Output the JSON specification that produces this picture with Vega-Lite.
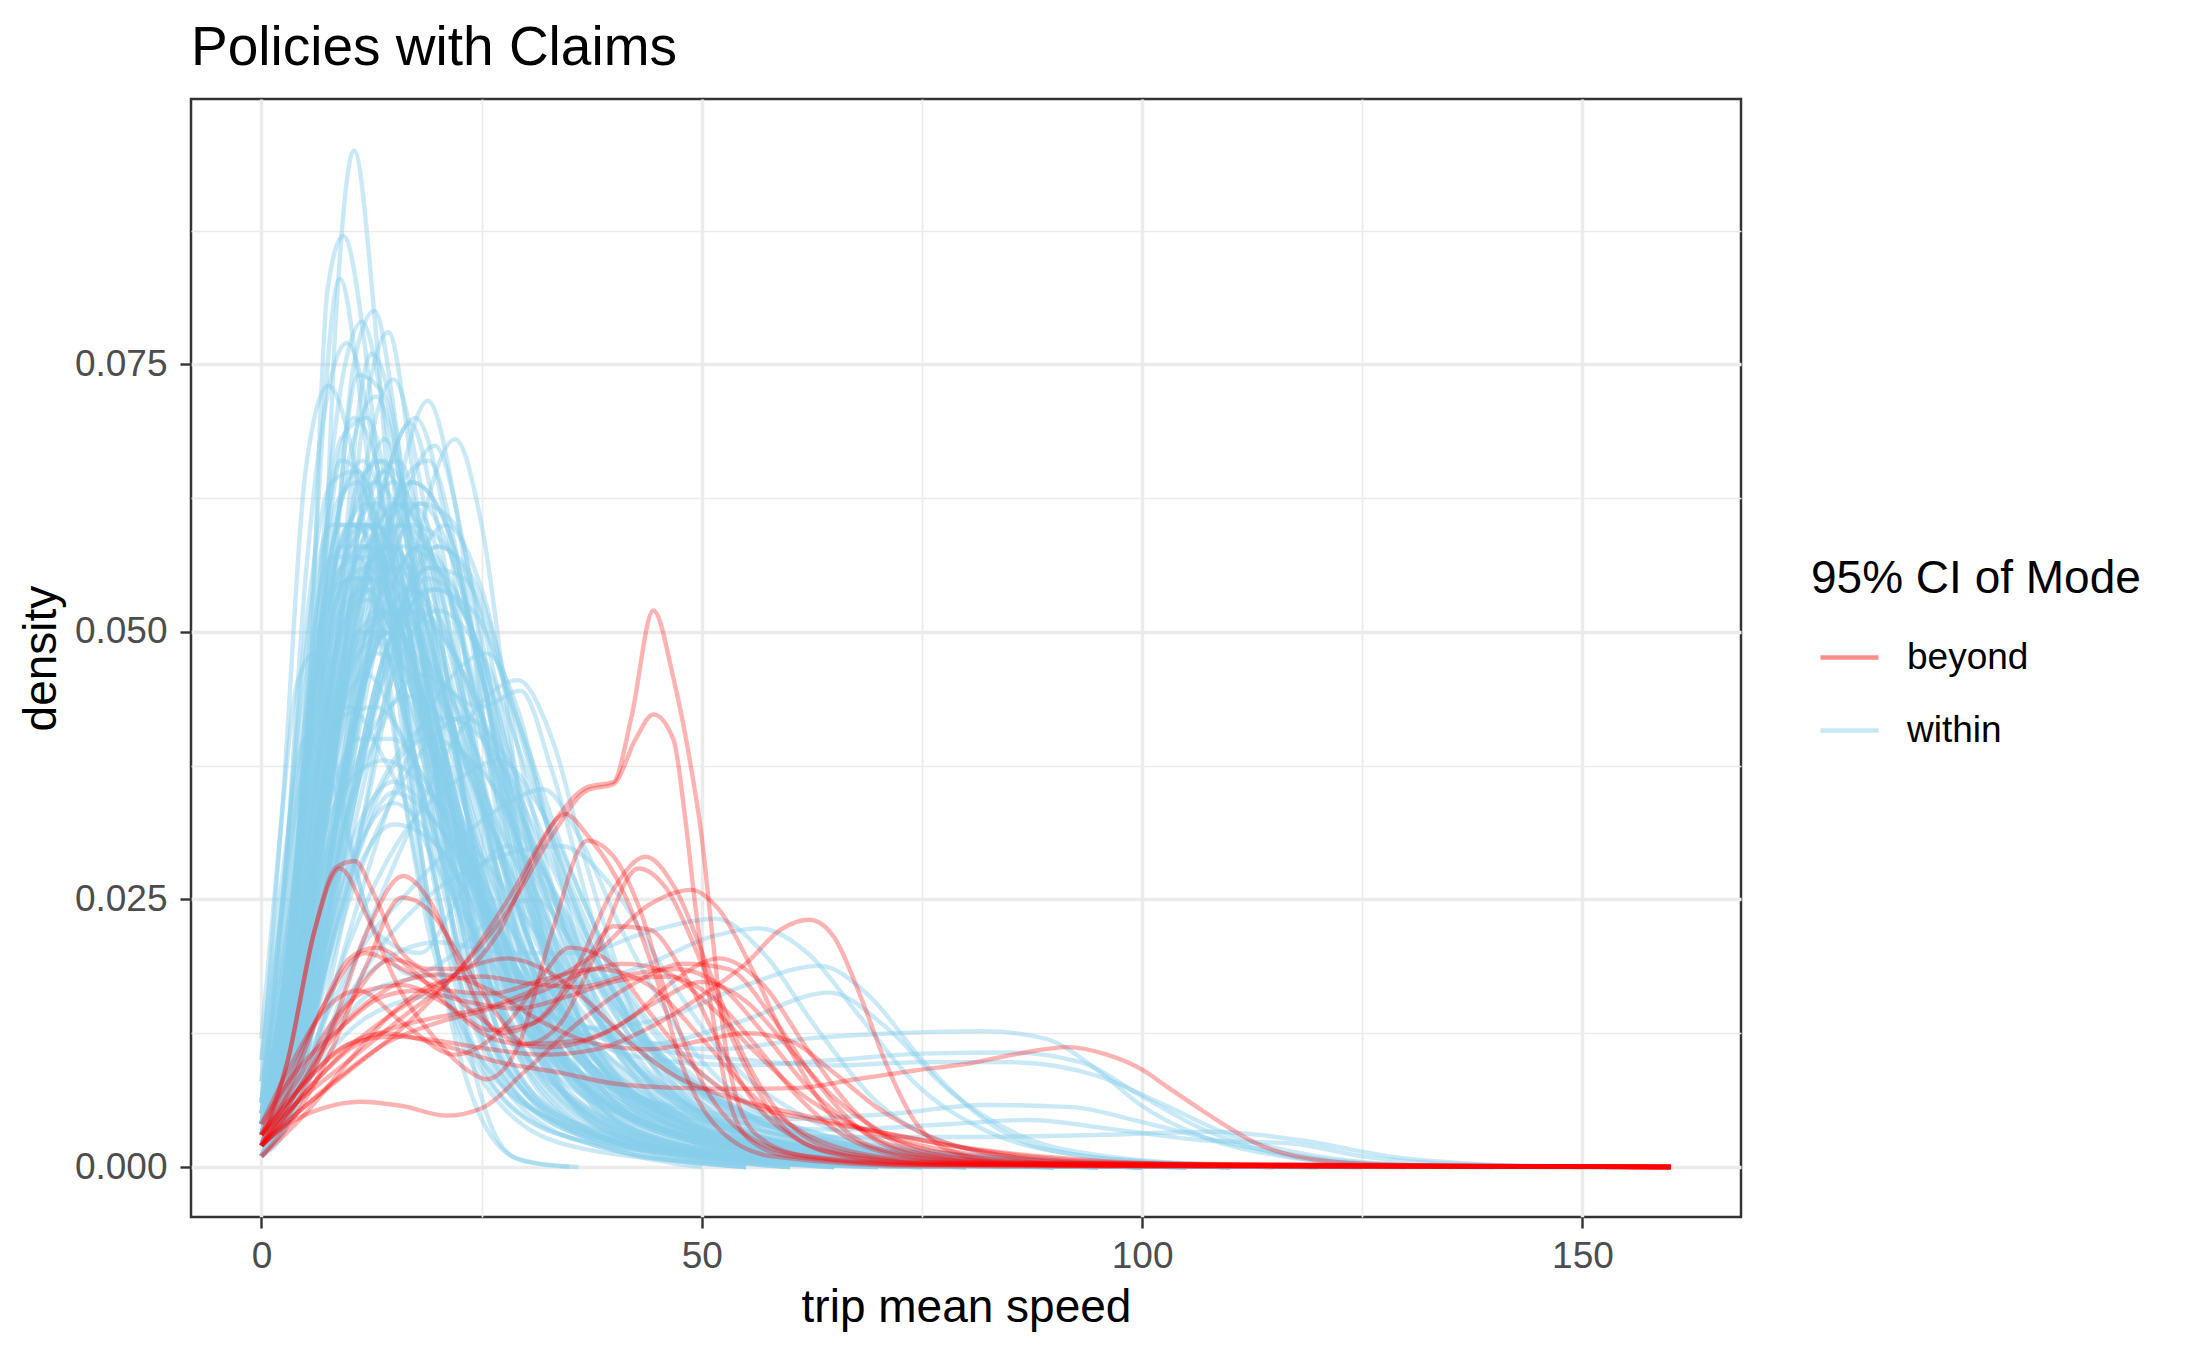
{
  "$schema": "https://vega.github.io/schema/vega-lite/v6.json",
  "width": 1550,
  "height": 1118,
  "autosize": {"type": "none"},
  "padding": {"left": 191, "top": 99, "right": 448, "bottom": 135},
  "background": "white",
  "title": {
    "text": "Policies with Claims",
    "anchor": "start",
    "frame": "group",
    "fontSize": 55,
    "fontWeight": "normal",
    "color": "black",
    "baseline": "bottom",
    "offset": -33
  },
  "config": {
    "font": "Liberation Sans",
    "view": {"stroke": "#333333", "strokeWidth": 2.5},
    "axis": {
      "domain": false,
      "gridColor": "#EBEBEB",
      "tickColor": "#333333",
      "tickWidth": 2.4,
      "tickSize": 11,
      "labelColor": "#4D4D4D",
      "labelFontSize": 37,
      "titleFontSize": 46,
      "titleFontWeight": "normal",
      "titleColor": "black"
    }
  },
  "datasets": {
    "within": [
      {"id":1,"x":0,"y":0.001},{"id":1,"x":3,"y":0.004},{"id":1,"x":6,"y":0.03},{"id":1,"x":8.5,"y":0.08},{"id":1,"x":10.5,"y":0.095},{"id":1,"x":13,"y":0.078},{"id":1,"x":16,"y":0.045},{"id":1,"x":20,"y":0.02},{"id":1,"x":26,"y":0.007},{"id":1,"x":35,"y":0.002},{"id":1,"x":50,"y":0.0005},{"id":1,"x":80,"y":0},
      {"id":2,"x":0,"y":0.002},{"id":2,"x":3,"y":0.01},{"id":2,"x":5.5,"y":0.045},{"id":2,"x":7.5,"y":0.082},{"id":2,"x":9.3,"y":0.087},{"id":2,"x":12,"y":0.075},{"id":2,"x":15,"y":0.048},{"id":2,"x":19,"y":0.024},{"id":2,"x":25,"y":0.01},{"id":2,"x":34,"y":0.004},{"id":2,"x":48,"y":0.001},{"id":2,"x":70,"y":0.0002},{"id":2,"x":90,"y":0},
      {"id":3,"x":0,"y":0.003},{"id":3,"x":3,"y":0.015},{"id":3,"x":5.5,"y":0.05},{"id":3,"x":8.9,"y":0.083},{"id":3,"x":11.5,"y":0.07},{"id":3,"x":15,"y":0.042},{"id":3,"x":20,"y":0.02},{"id":3,"x":27,"y":0.008},{"id":3,"x":38,"y":0.003},{"id":3,"x":55,"y":0.0008},{"id":3,"x":80,"y":0},
      {"id":4,"x":0,"y":0.001},{"id":4,"x":4,"y":0.01},{"id":4,"x":7,"y":0.04},{"id":4,"x":10.5,"y":0.075},{"id":4,"x":12.8,"y":0.08},{"id":4,"x":15.5,"y":0.068},{"id":4,"x":19,"y":0.042},{"id":4,"x":24,"y":0.018},{"id":4,"x":30,"y":0.007},{"id":4,"x":40,"y":0.003},{"id":4,"x":55,"y":0.001},{"id":4,"x":85,"y":0},
      {"id":5,"x":0,"y":0.002},{"id":5,"x":4,"y":0.012},{"id":5,"x":8,"y":0.042},{"id":5,"x":12,"y":0.072},{"id":5,"x":14.4,"y":0.078},{"id":5,"x":17,"y":0.066},{"id":5,"x":21,"y":0.038},{"id":5,"x":26,"y":0.015},{"id":5,"x":33,"y":0.005},{"id":5,"x":45,"y":0.0015},{"id":5,"x":70,"y":0},
      {"id":6,"x":0,"y":0.004},{"id":6,"x":3,"y":0.02},{"id":6,"x":6,"y":0.05},{"id":6,"x":9.5,"y":0.075},{"id":6,"x":11.4,"y":0.079},{"id":6,"x":14,"y":0.07},{"id":6,"x":18,"y":0.042},{"id":6,"x":23,"y":0.018},{"id":6,"x":30,"y":0.006},{"id":6,"x":42,"y":0.002},{"id":6,"x":60,"y":0.0005},{"id":6,"x":90,"y":0},
      {"id":7,"x":0,"y":0.006},{"id":7,"x":2.5,"y":0.025},{"id":7,"x":5,"y":0.055},{"id":7,"x":9.7,"y":0.077},{"id":7,"x":13,"y":0.066},{"id":7,"x":17,"y":0.04},{"id":7,"x":22,"y":0.017},{"id":7,"x":28,"y":0.006},{"id":7,"x":38,"y":0.002},{"id":7,"x":55,"y":0},
      {"id":8,"x":0,"y":0.008},{"id":8,"x":2.5,"y":0.035},{"id":8,"x":5,"y":0.065},{"id":8,"x":7.6,"y":0.073},{"id":8,"x":10,"y":0.068},{"id":8,"x":14,"y":0.046},{"id":8,"x":19,"y":0.022},{"id":8,"x":25,"y":0.009},{"id":8,"x":34,"y":0.003},{"id":8,"x":50,"y":0.001},{"id":8,"x":75,"y":0},
      {"id":9,"x":0,"y":0.001},{"id":9,"x":4,"y":0.008},{"id":9,"x":8,"y":0.036},{"id":9,"x":12,"y":0.066},{"id":9,"x":15,"y":0.0736},{"id":9,"x":18,"y":0.064},{"id":9,"x":22,"y":0.04},{"id":9,"x":27,"y":0.016},{"id":9,"x":34,"y":0.005},{"id":9,"x":45,"y":0.0015},{"id":9,"x":70,"y":0},
      {"id":10,"x":0,"y":0.001},{"id":10,"x":5,"y":0.01},{"id":10,"x":10,"y":0.036},{"id":10,"x":15,"y":0.061},{"id":10,"x":18.9,"y":0.0716},{"id":10,"x":22,"y":0.062},{"id":10,"x":26,"y":0.037},{"id":10,"x":31,"y":0.014},{"id":10,"x":38,"y":0.004},{"id":10,"x":50,"y":0.001},{"id":10,"x":75,"y":0},
      {"id":11,"x":0,"y":0.001},{"id":11,"x":5,"y":0.008},{"id":11,"x":10,"y":0.026},{"id":11,"x":16,"y":0.052},{"id":11,"x":22,"y":0.068},{"id":11,"x":25,"y":0.06},{"id":11,"x":29,"y":0.036},{"id":11,"x":34,"y":0.014},{"id":11,"x":41,"y":0.004},{"id":11,"x":55,"y":0.001},{"id":11,"x":80,"y":0},
      {"id":12,"x":0,"y":0.003},{"id":12,"x":4,"y":0.016},{"id":12,"x":9,"y":0.042},{"id":12,"x":14,"y":0.064},{"id":12,"x":16.9,"y":0.0695},{"id":12,"x":20,"y":0.06},{"id":12,"x":25,"y":0.034},{"id":12,"x":31,"y":0.012},{"id":12,"x":40,"y":0.003},{"id":12,"x":55,"y":0.0008},{"id":12,"x":80,"y":0},
      {"id":13,"x":0,"y":0.002},{"id":13,"x":4,"y":0.011},{"id":13,"x":9,"y":0.034},{"id":13,"x":15,"y":0.059},{"id":13,"x":19.7,"y":0.0674},{"id":13,"x":23,"y":0.058},{"id":13,"x":28,"y":0.031},{"id":13,"x":34,"y":0.011},{"id":13,"x":42,"y":0.003},{"id":13,"x":60,"y":0},
      {"id":14,"x":0,"y":0.005},{"id":14,"x":3,"y":0.022},{"id":14,"x":7,"y":0.052},{"id":14,"x":13,"y":0.072},{"id":14,"x":16,"y":0.064},{"id":14,"x":20,"y":0.042},{"id":14,"x":25,"y":0.018},{"id":14,"x":32,"y":0.006},{"id":14,"x":44,"y":0.002},{"id":14,"x":65,"y":0},
      {"id":15,"x":0,"y":0.004},{"id":15,"x":3,"y":0.018},{"id":15,"x":6,"y":0.048},{"id":15,"x":10.5,"y":0.07},{"id":15,"x":13,"y":0.066},{"id":15,"x":17,"y":0.045},{"id":15,"x":22,"y":0.022},{"id":15,"x":28,"y":0.009},{"id":15,"x":38,"y":0.003},{"id":15,"x":55,"y":0.001},{"id":15,"x":80,"y":0},
      {"id":16,"x":0,"y":0.002},{"id":16,"x":4,"y":0.012},{"id":16,"x":8,"y":0.045},{"id":16,"x":12.5,"y":0.076},{"id":16,"x":15,"y":0.07},{"id":16,"x":18,"y":0.05},{"id":16,"x":23,"y":0.024},{"id":16,"x":29,"y":0.009},{"id":16,"x":38,"y":0.003},{"id":16,"x":55,"y":0},
      {"id":17,"x":0,"y":0.003},{"id":17,"x":3,"y":0.012},{"id":17,"x":7,"y":0.045},{"id":17,"x":11,"y":0.074},{"id":17,"x":14,"y":0.072},{"id":17,"x":17,"y":0.055},{"id":17,"x":21,"y":0.03},{"id":17,"x":27,"y":0.011},{"id":17,"x":36,"y":0.003},{"id":17,"x":50,"y":0},
      {"id":18,"x":0,"y":0.001},{"id":18,"x":4,"y":0.009},{"id":18,"x":8,"y":0.03},{"id":18,"x":13,"y":0.06},{"id":18,"x":17.5,"y":0.07},{"id":18,"x":21,"y":0.06},{"id":18,"x":25,"y":0.036},{"id":18,"x":30,"y":0.015},{"id":18,"x":37,"y":0.005},{"id":18,"x":50,"y":0.001},{"id":18,"x":75,"y":0},
      {"id":19,"x":0,"y":0.005},{"id":19,"x":3,"y":0.024},{"id":19,"x":6,"y":0.05},{"id":19,"x":9,"y":0.066},{"id":19,"x":12,"y":0.064},{"id":19,"x":16,"y":0.045},{"id":19,"x":21,"y":0.022},{"id":19,"x":27,"y":0.009},{"id":19,"x":36,"y":0.003},{"id":19,"x":50,"y":0.001},{"id":19,"x":70,"y":0},
      {"id":20,"x":0,"y":0.002},{"id":20,"x":3,"y":0.012},{"id":20,"x":7,"y":0.04},{"id":20,"x":12,"y":0.062},{"id":20,"x":15.5,"y":0.066},{"id":20,"x":19,"y":0.056},{"id":20,"x":24,"y":0.03},{"id":20,"x":30,"y":0.012},{"id":20,"x":40,"y":0.004},{"id":20,"x":55,"y":0.001},{"id":20,"x":80,"y":0},
      {"id":21,"x":0,"y":0.003},{"id":21,"x":3,"y":0.014},{"id":21,"x":6,"y":0.035},{"id":21,"x":10,"y":0.055},{"id":21,"x":13,"y":0.06},{"id":21,"x":17,"y":0.052},{"id":21,"x":22,"y":0.032},{"id":21,"x":28,"y":0.016},{"id":21,"x":35,"y":0.008},{"id":21,"x":45,"y":0.003},{"id":21,"x":60,"y":0.001},{"id":21,"x":90,"y":0},
      {"id":22,"x":0,"y":0.001},{"id":22,"x":3,"y":0.006},{"id":22,"x":6,"y":0.025},{"id":22,"x":10,"y":0.048},{"id":22,"x":15,"y":0.062},{"id":22,"x":19,"y":0.058},{"id":22,"x":24,"y":0.04},{"id":22,"x":30,"y":0.02},{"id":22,"x":37,"y":0.009},{"id":22,"x":47,"y":0.003},{"id":22,"x":65,"y":0.0008},{"id":22,"x":100,"y":0},
      {"id":23,"x":0,"y":0.004},{"id":23,"x":3,"y":0.02},{"id":23,"x":6,"y":0.042},{"id":23,"x":9,"y":0.056},{"id":23,"x":12,"y":0.058},{"id":23,"x":16,"y":0.048},{"id":23,"x":21,"y":0.03},{"id":23,"x":27,"y":0.015},{"id":23,"x":35,"y":0.006},{"id":23,"x":46,"y":0.002},{"id":23,"x":65,"y":0.0005},{"id":23,"x":95,"y":0},
      {"id":24,"x":0,"y":0.002},{"id":24,"x":4,"y":0.012},{"id":24,"x":8,"y":0.032},{"id":24,"x":13,"y":0.05},{"id":24,"x":18,"y":0.058},{"id":24,"x":22,"y":0.052},{"id":24,"x":27,"y":0.035},{"id":24,"x":33,"y":0.018},{"id":24,"x":40,"y":0.008},{"id":24,"x":50,"y":0.003},{"id":24,"x":70,"y":0.0008},{"id":24,"x":100,"y":0},
      {"id":25,"x":0,"y":0.006},{"id":25,"x":2.5,"y":0.022},{"id":25,"x":5,"y":0.042},{"id":25,"x":8,"y":0.054},{"id":25,"x":11,"y":0.055},{"id":25,"x":15,"y":0.046},{"id":25,"x":20,"y":0.03},{"id":25,"x":26,"y":0.016},{"id":25,"x":34,"y":0.007},{"id":25,"x":45,"y":0.0025},{"id":25,"x":65,"y":0.0006},{"id":25,"x":95,"y":0},
      {"id":26,"x":0,"y":0.001},{"id":26,"x":4,"y":0.008},{"id":26,"x":8,"y":0.028},{"id":26,"x":13,"y":0.05},{"id":26,"x":18,"y":0.062},{"id":26,"x":22,"y":0.06},{"id":26,"x":26,"y":0.045},{"id":26,"x":31,"y":0.024},{"id":26,"x":37,"y":0.01},{"id":26,"x":46,"y":0.004},{"id":26,"x":60,"y":0.001},{"id":26,"x":90,"y":0},
      {"id":27,"x":0,"y":0.002},{"id":27,"x":3,"y":0.01},{"id":27,"x":6,"y":0.03},{"id":27,"x":10,"y":0.05},{"id":27,"x":14,"y":0.056},{"id":27,"x":18,"y":0.05},{"id":27,"x":23,"y":0.034},{"id":27,"x":29,"y":0.018},{"id":27,"x":36,"y":0.008},{"id":27,"x":46,"y":0.003},{"id":27,"x":62,"y":0.001},{"id":27,"x":95,"y":0},
      {"id":28,"x":0,"y":0.003},{"id":28,"x":3,"y":0.016},{"id":28,"x":6,"y":0.04},{"id":28,"x":9,"y":0.058},{"id":28,"x":12,"y":0.062},{"id":28,"x":15,"y":0.056},{"id":28,"x":20,"y":0.036},{"id":28,"x":26,"y":0.017},{"id":28,"x":33,"y":0.007},{"id":28,"x":44,"y":0.002},{"id":28,"x":60,"y":0},
      {"id":29,"x":0,"y":0.001},{"id":29,"x":4,"y":0.01},{"id":29,"x":9,"y":0.03},{"id":29,"x":14,"y":0.048},{"id":29,"x":19,"y":0.056},{"id":29,"x":24,"y":0.05},{"id":29,"x":29,"y":0.033},{"id":29,"x":35,"y":0.016},{"id":29,"x":42,"y":0.007},{"id":29,"x":52,"y":0.0025},{"id":29,"x":70,"y":0.0006},{"id":29,"x":100,"y":0},
      {"id":30,"x":0,"y":0.005},{"id":30,"x":3,"y":0.02},{"id":30,"x":6,"y":0.044},{"id":30,"x":10,"y":0.06},{"id":30,"x":13,"y":0.06},{"id":30,"x":17,"y":0.049},{"id":30,"x":22,"y":0.03},{"id":30,"x":28,"y":0.014},{"id":30,"x":36,"y":0.005},{"id":30,"x":48,"y":0.0015},{"id":30,"x":70,"y":0},
      {"id":31,"x":0,"y":0.002},{"id":31,"x":3,"y":0.012},{"id":31,"x":7,"y":0.036},{"id":31,"x":11,"y":0.054},{"id":31,"x":15,"y":0.058},{"id":31,"x":19,"y":0.05},{"id":31,"x":24,"y":0.032},{"id":31,"x":30,"y":0.016},{"id":31,"x":38,"y":0.007},{"id":31,"x":50,"y":0.0025},{"id":31,"x":70,"y":0.0006},{"id":31,"x":100,"y":0},
      {"id":32,"x":0,"y":0.001},{"id":32,"x":5,"y":0.012},{"id":32,"x":10,"y":0.034},{"id":32,"x":15,"y":0.05},{"id":32,"x":20,"y":0.054},{"id":32,"x":25,"y":0.048},{"id":32,"x":30,"y":0.032},{"id":32,"x":36,"y":0.017},{"id":32,"x":44,"y":0.008},{"id":32,"x":55,"y":0.003},{"id":32,"x":75,"y":0.0008},{"id":32,"x":110,"y":0},
      {"id":33,"x":0,"y":0.004},{"id":33,"x":3,"y":0.018},{"id":33,"x":6,"y":0.038},{"id":33,"x":9,"y":0.05},{"id":33,"x":12,"y":0.053},{"id":33,"x":16,"y":0.048},{"id":33,"x":21,"y":0.035},{"id":33,"x":27,"y":0.02},{"id":33,"x":34,"y":0.01},{"id":33,"x":44,"y":0.004},{"id":33,"x":60,"y":0.0012},{"id":33,"x":90,"y":0.0002},{"id":33,"x":120,"y":0},
      {"id":34,"x":0,"y":0.002},{"id":34,"x":3,"y":0.01},{"id":34,"x":6,"y":0.028},{"id":34,"x":10,"y":0.045},{"id":34,"x":14,"y":0.052},{"id":34,"x":18,"y":0.05},{"id":34,"x":23,"y":0.038},{"id":34,"x":29,"y":0.022},{"id":34,"x":36,"y":0.011},{"id":34,"x":46,"y":0.005},{"id":34,"x":60,"y":0.0015},{"id":34,"x":85,"y":0.0003},{"id":34,"x":120,"y":0},
      {"id":35,"x":0,"y":0.003},{"id":35,"x":4,"y":0.016},{"id":35,"x":8,"y":0.04},{"id":35,"x":11,"y":0.05},{"id":35,"x":14,"y":0.05},{"id":35,"x":18,"y":0.042},{"id":35,"x":23,"y":0.03},{"id":35,"x":29,"y":0.017},{"id":35,"x":37,"y":0.008},{"id":35,"x":48,"y":0.003},{"id":35,"x":65,"y":0.001},{"id":35,"x":100,"y":0},
      {"id":36,"x":0,"y":0.001},{"id":36,"x":4,"y":0.009},{"id":36,"x":8,"y":0.03},{"id":36,"x":12,"y":0.048},{"id":36,"x":16,"y":0.058},{"id":36,"x":20,"y":0.056},{"id":36,"x":25,"y":0.042},{"id":36,"x":31,"y":0.024},{"id":36,"x":38,"y":0.011},{"id":36,"x":48,"y":0.004},{"id":36,"x":65,"y":0.001},{"id":36,"x":100,"y":0},
      {"id":37,"x":0,"y":0.002},{"id":37,"x":3,"y":0.012},{"id":37,"x":6,"y":0.034},{"id":37,"x":9,"y":0.05},{"id":37,"x":12,"y":0.055},{"id":37,"x":16,"y":0.05},{"id":37,"x":21,"y":0.036},{"id":37,"x":27,"y":0.02},{"id":37,"x":35,"y":0.009},{"id":37,"x":46,"y":0.0035},{"id":37,"x":62,"y":0.001},{"id":37,"x":95,"y":0},
      {"id":38,"x":0,"y":0.001},{"id":38,"x":4,"y":0.008},{"id":38,"x":9,"y":0.028},{"id":38,"x":15,"y":0.05},{"id":38,"x":21,"y":0.06},{"id":38,"x":25,"y":0.054},{"id":38,"x":30,"y":0.036},{"id":38,"x":36,"y":0.018},{"id":38,"x":43,"y":0.008},{"id":38,"x":53,"y":0.003},{"id":38,"x":70,"y":0.0008},{"id":38,"x":105,"y":0},
      {"id":39,"x":0,"y":0.004},{"id":39,"x":3,"y":0.02},{"id":39,"x":6,"y":0.045},{"id":39,"x":8.5,"y":0.062},{"id":39,"x":11,"y":0.064},{"id":39,"x":14,"y":0.055},{"id":39,"x":18,"y":0.036},{"id":39,"x":24,"y":0.016},{"id":39,"x":31,"y":0.006},{"id":39,"x":42,"y":0.002},{"id":39,"x":60,"y":0},
      {"id":40,"x":0,"y":0.002},{"id":40,"x":3,"y":0.012},{"id":40,"x":7,"y":0.04},{"id":40,"x":11,"y":0.06},{"id":40,"x":14,"y":0.065},{"id":40,"x":18,"y":0.056},{"id":40,"x":23,"y":0.034},{"id":40,"x":29,"y":0.015},{"id":40,"x":37,"y":0.005},{"id":40,"x":50,"y":0.0015},{"id":40,"x":75,"y":0},
      {"id":41,"x":0,"y":0.003},{"id":41,"x":3,"y":0.012},{"id":41,"x":7,"y":0.028},{"id":41,"x":12,"y":0.04},{"id":41,"x":17,"y":0.044},{"id":41,"x":22,"y":0.04},{"id":41,"x":28,"y":0.03},{"id":41,"x":35,"y":0.018},{"id":41,"x":43,"y":0.009},{"id":41,"x":53,"y":0.004},{"id":41,"x":68,"y":0.0012},{"id":41,"x":90,"y":0.0003},{"id":41,"x":125,"y":0},
      {"id":42,"x":0,"y":0.008},{"id":42,"x":2.5,"y":0.02},{"id":42,"x":5,"y":0.033},{"id":42,"x":9,"y":0.042},{"id":42,"x":13,"y":0.043},{"id":42,"x":18,"y":0.037},{"id":42,"x":24,"y":0.027},{"id":42,"x":31,"y":0.017},{"id":42,"x":39,"y":0.009},{"id":42,"x":50,"y":0.004},{"id":42,"x":65,"y":0.0012},{"id":42,"x":95,"y":0},
      {"id":43,"x":0,"y":0.002},{"id":43,"x":4,"y":0.01},{"id":43,"x":9,"y":0.026},{"id":43,"x":15,"y":0.038},{"id":43,"x":21,"y":0.042},{"id":43,"x":27,"y":0.038},{"id":43,"x":33,"y":0.028},{"id":43,"x":40,"y":0.016},{"id":43,"x":48,"y":0.008},{"id":43,"x":58,"y":0.0035},{"id":43,"x":75,"y":0.001},{"id":43,"x":110,"y":0},
      {"id":44,"x":0,"y":0.005},{"id":44,"x":3,"y":0.016},{"id":44,"x":7,"y":0.032},{"id":44,"x":11,"y":0.04},{"id":44,"x":15,"y":0.04},{"id":44,"x":20,"y":0.034},{"id":44,"x":27,"y":0.024},{"id":44,"x":35,"y":0.014},{"id":44,"x":45,"y":0.007},{"id":44,"x":58,"y":0.0025},{"id":44,"x":80,"y":0.0006},{"id":44,"x":120,"y":0},
      {"id":45,"x":0,"y":0.001},{"id":45,"x":4,"y":0.008},{"id":45,"x":9,"y":0.024},{"id":45,"x":14,"y":0.036},{"id":45,"x":19,"y":0.04},{"id":45,"x":25,"y":0.037},{"id":45,"x":31,"y":0.029},{"id":45,"x":38,"y":0.019},{"id":45,"x":46,"y":0.01},{"id":45,"x":56,"y":0.0045},{"id":45,"x":72,"y":0.0012},{"id":45,"x":100,"y":0.0002},{"id":45,"x":130,"y":0},
      {"id":46,"x":0,"y":0.01},{"id":46,"x":2,"y":0.022},{"id":46,"x":4,"y":0.034},{"id":46,"x":7,"y":0.042},{"id":46,"x":10,"y":0.043},{"id":46,"x":14,"y":0.038},{"id":46,"x":20,"y":0.028},{"id":46,"x":27,"y":0.018},{"id":46,"x":36,"y":0.009},{"id":46,"x":48,"y":0.0035},{"id":46,"x":65,"y":0.001},{"id":46,"x":95,"y":0},
      {"id":47,"x":0,"y":0.002},{"id":47,"x":4,"y":0.012},{"id":47,"x":8,"y":0.028},{"id":47,"x":13,"y":0.04},{"id":47,"x":18,"y":0.046},{"id":47,"x":23,"y":0.043},{"id":47,"x":29,"y":0.033},{"id":47,"x":36,"y":0.02},{"id":47,"x":44,"y":0.01},{"id":47,"x":55,"y":0.004},{"id":47,"x":72,"y":0.001},{"id":47,"x":105,"y":0},
      {"id":48,"x":0,"y":0.004},{"id":48,"x":3,"y":0.014},{"id":48,"x":6,"y":0.028},{"id":48,"x":10,"y":0.036},{"id":48,"x":14,"y":0.038},{"id":48,"x":19,"y":0.035},{"id":48,"x":25,"y":0.029},{"id":48,"x":32,"y":0.021},{"id":48,"x":40,"y":0.013},{"id":48,"x":50,"y":0.007},{"id":48,"x":62,"y":0.003},{"id":48,"x":80,"y":0.001},{"id":48,"x":110,"y":0.0002},{"id":48,"x":140,"y":0},
      {"id":49,"x":0,"y":0.001},{"id":49,"x":5,"y":0.008},{"id":49,"x":10,"y":0.022},{"id":49,"x":15,"y":0.035},{"id":49,"x":20,"y":0.044},{"id":49,"x":25.6,"y":0.048},{"id":49,"x":29,"y":0.043},{"id":49,"x":33,"y":0.03},{"id":49,"x":38,"y":0.015},{"id":49,"x":45,"y":0.006},{"id":49,"x":55,"y":0.002},{"id":49,"x":75,"y":0.0005},{"id":49,"x":100,"y":0},
      {"id":50,"x":0,"y":0.001},{"id":50,"x":5,"y":0.007},{"id":50,"x":10,"y":0.018},{"id":50,"x":16,"y":0.03},{"id":50,"x":22,"y":0.04},{"id":50,"x":29.1,"y":0.0455},{"id":50,"x":33,"y":0.04},{"id":50,"x":37,"y":0.028},{"id":50,"x":42,"y":0.015},{"id":50,"x":49,"y":0.006},{"id":50,"x":60,"y":0.002},{"id":50,"x":80,"y":0.0005},{"id":50,"x":110,"y":0},
      {"id":51,"x":0,"y":0.002},{"id":51,"x":5,"y":0.01},{"id":51,"x":11,"y":0.02},{"id":51,"x":17,"y":0.026},{"id":51,"x":23,"y":0.031},{"id":51,"x":28,"y":0.034},{"id":51,"x":32,"y":0.0353},{"id":51,"x":36,"y":0.031},{"id":51,"x":41,"y":0.022},{"id":51,"x":48,"y":0.012},{"id":51,"x":57,"y":0.005},{"id":51,"x":70,"y":0.0015},{"id":51,"x":95,"y":0.0003},{"id":51,"x":120,"y":0},
      {"id":52,"x":0,"y":0.002},{"id":52,"x":4,"y":0.012},{"id":52,"x":8,"y":0.034},{"id":52,"x":12,"y":0.05},{"id":52,"x":16,"y":0.052},{"id":52,"x":20,"y":0.046},{"id":52,"x":25,"y":0.043},{"id":52,"x":29.4,"y":0.0445},{"id":52,"x":33,"y":0.037},{"id":52,"x":38,"y":0.022},{"id":52,"x":44,"y":0.01},{"id":52,"x":52,"y":0.004},{"id":52,"x":65,"y":0.001},{"id":52,"x":90,"y":0},
      {"id":53,"x":0,"y":0.001},{"id":53,"x":5,"y":0.009},{"id":53,"x":10,"y":0.021},{"id":53,"x":16,"y":0.031},{"id":53,"x":22,"y":0.036},{"id":53,"x":27,"y":0.038},{"id":53,"x":32,"y":0.033},{"id":53,"x":37,"y":0.024},{"id":53,"x":43,"y":0.013},{"id":53,"x":50,"y":0.006},{"id":53,"x":60,"y":0.002},{"id":53,"x":80,"y":0.0005},{"id":53,"x":110,"y":0},
      {"id":54,"x":0,"y":0.002},{"id":54,"x":5,"y":0.011},{"id":54,"x":10,"y":0.025},{"id":54,"x":16,"y":0.036},{"id":54,"x":23,"y":0.042},{"id":54,"x":28,"y":0.038},{"id":54,"x":34,"y":0.027},{"id":54,"x":41,"y":0.015},{"id":54,"x":49,"y":0.008},{"id":54,"x":58,"y":0.004},{"id":54,"x":70,"y":0.0015},{"id":54,"x":90,"y":0.0004},{"id":54,"x":120,"y":0},
      {"id":55,"x":0,"y":0.002},{"id":55,"x":6,"y":0.01},{"id":55,"x":13,"y":0.02},{"id":55,"x":20,"y":0.026},{"id":55,"x":27,"y":0.029},{"id":55,"x":34,"y":0.03},{"id":55,"x":40,"y":0.026},{"id":55,"x":46,"y":0.018},{"id":55,"x":53,"y":0.01},{"id":55,"x":61,"y":0.005},{"id":55,"x":72,"y":0.002},{"id":55,"x":90,"y":0.0006},{"id":55,"x":120,"y":0},
      {"id":56,"x":0,"y":0.002},{"id":56,"x":5,"y":0.012},{"id":56,"x":10,"y":0.026},{"id":56,"x":15,"y":0.032},{"id":56,"x":20,"y":0.03},{"id":56,"x":26,"y":0.022},{"id":56,"x":33,"y":0.015},{"id":56,"x":42,"y":0.012},{"id":56,"x":52,"y":0.011},{"id":56,"x":62,"y":0.012},{"id":56,"x":72,"y":0.0125},{"id":56,"x":82,"y":0.0127},{"id":56,"x":89,"y":0.012},{"id":56,"x":95,"y":0.009},{"id":56,"x":100,"y":0.0057},{"id":56,"x":108,"y":0.0025},{"id":56,"x":116,"y":0.001},{"id":56,"x":125,"y":0.0003},{"id":56,"x":140,"y":0},
      {"id":57,"x":0,"y":0.003},{"id":57,"x":5,"y":0.014},{"id":57,"x":10,"y":0.028},{"id":57,"x":15,"y":0.034},{"id":57,"x":20,"y":0.03},{"id":57,"x":27,"y":0.02},{"id":57,"x":35,"y":0.013},{"id":57,"x":45,"y":0.01},{"id":57,"x":55,"y":0.0095},{"id":57,"x":65,"y":0.01},{"id":57,"x":75,"y":0.0106},{"id":57,"x":85,"y":0.0107},{"id":57,"x":93,"y":0.0098},{"id":57,"x":100,"y":0.0066},{"id":57,"x":107,"y":0.0035},{"id":57,"x":115,"y":0.0013},{"id":57,"x":125,"y":0.0003},{"id":57,"x":145,"y":0},
      {"id":58,"x":0,"y":0.004},{"id":58,"x":4,"y":0.02},{"id":58,"x":8,"y":0.04},{"id":58,"x":12,"y":0.046},{"id":58,"x":16,"y":0.04},{"id":58,"x":22,"y":0.026},{"id":58,"x":29,"y":0.014},{"id":58,"x":38,"y":0.008},{"id":58,"x":48,"y":0.0055},{"id":58,"x":60,"y":0.0045},{"id":58,"x":72,"y":0.005},{"id":58,"x":82,"y":0.0058},{"id":58,"x":92,"y":0.0056},{"id":58,"x":100,"y":0.0042},{"id":58,"x":110,"y":0.0022},{"id":58,"x":120,"y":0.0008},{"id":58,"x":135,"y":0},
      {"id":59,"x":0,"y":0.002},{"id":59,"x":4,"y":0.012},{"id":59,"x":9,"y":0.034},{"id":59,"x":13,"y":0.048},{"id":59,"x":17,"y":0.046},{"id":59,"x":23,"y":0.032},{"id":59,"x":30,"y":0.017},{"id":59,"x":40,"y":0.008},{"id":59,"x":52,"y":0.0045},{"id":59,"x":65,"y":0.0035},{"id":59,"x":78,"y":0.004},{"id":59,"x":87,"y":0.0044},{"id":59,"x":97,"y":0.0035},{"id":59,"x":107,"y":0.0025},{"id":59,"x":117,"y":0.0022},{"id":59,"x":125,"y":0.001},{"id":59,"x":135,"y":0.0003},{"id":59,"x":150,"y":0},
      {"id":60,"x":0,"y":0.002},{"id":60,"x":5,"y":0.008},{"id":60,"x":12,"y":0.014},{"id":60,"x":20,"y":0.016},{"id":60,"x":28,"y":0.016},{"id":60,"x":36,"y":0.017},{"id":60,"x":44,"y":0.019},{"id":60,"x":51,"y":0.0215},{"id":60,"x":56.5,"y":0.0223},{"id":60,"x":62,"y":0.02},{"id":60,"x":68,"y":0.014},{"id":60,"x":74,"y":0.008},{"id":60,"x":82,"y":0.0035},{"id":60,"x":92,"y":0.0012},{"id":60,"x":105,"y":0.0003},{"id":60,"x":125,"y":0},
      {"id":61,"x":0,"y":0.001},{"id":61,"x":5,"y":0.009},{"id":61,"x":12,"y":0.018},{"id":61,"x":20,"y":0.021},{"id":61,"x":28,"y":0.02},{"id":61,"x":36,"y":0.02},{"id":61,"x":44,"y":0.022},{"id":61,"x":51.6,"y":0.0232},{"id":61,"x":57,"y":0.02},{"id":61,"x":63,"y":0.013},{"id":61,"x":70,"y":0.006},{"id":61,"x":78,"y":0.0022},{"id":61,"x":90,"y":0.0006},{"id":61,"x":110,"y":0},
      {"id":62,"x":0,"y":0.002},{"id":62,"x":6,"y":0.01},{"id":62,"x":14,"y":0.017},{"id":62,"x":22,"y":0.018},{"id":62,"x":30,"y":0.015},{"id":62,"x":38,"y":0.013},{"id":62,"x":46,"y":0.014},{"id":62,"x":55,"y":0.017},{"id":62,"x":63.4,"y":0.0188},{"id":62,"x":69,"y":0.016},{"id":62,"x":75,"y":0.01},{"id":62,"x":82,"y":0.0045},{"id":62,"x":90,"y":0.0015},{"id":62,"x":105,"y":0.0003},{"id":62,"x":125,"y":0},
      {"id":63,"x":0,"y":0.003},{"id":63,"x":5,"y":0.016},{"id":63,"x":10,"y":0.03},{"id":63,"x":15,"y":0.036},{"id":63,"x":20,"y":0.032},{"id":63,"x":27,"y":0.021},{"id":63,"x":35,"y":0.013},{"id":63,"x":44,"y":0.0115},{"id":63,"x":54,"y":0.0135},{"id":63,"x":64.5,"y":0.0163},{"id":63,"x":71,"y":0.013},{"id":63,"x":78,"y":0.0072},{"id":63,"x":86,"y":0.003},{"id":63,"x":96,"y":0.001},{"id":63,"x":110,"y":0.0002},{"id":63,"x":130,"y":0},
      {"id":64,"x":0,"y":0.002},{"id":64,"x":5,"y":0.012},{"id":64,"x":10,"y":0.027},{"id":64,"x":15,"y":0.035},{"id":64,"x":20,"y":0.032},{"id":64,"x":27,"y":0.022},{"id":64,"x":35,"y":0.014},{"id":64,"x":45,"y":0.011},{"id":64,"x":55,"y":0.01},{"id":64,"x":65,"y":0.0095},{"id":64,"x":75,"y":0.0098},{"id":64,"x":85,"y":0.0098},{"id":64,"x":95,"y":0.0085},{"id":64,"x":102,"y":0.006},{"id":64,"x":110,"y":0.003},{"id":64,"x":120,"y":0.001},{"id":64,"x":135,"y":0},
      {"id":65,"x":0,"y":0.003},{"id":65,"x":4,"y":0.018},{"id":65,"x":8,"y":0.04},{"id":65,"x":12,"y":0.05},{"id":65,"x":16,"y":0.045},{"id":65,"x":22,"y":0.03},{"id":65,"x":30,"y":0.016},{"id":65,"x":40,"y":0.008},{"id":65,"x":52,"y":0.004},{"id":65,"x":65,"y":0.0028},{"id":65,"x":80,"y":0.0028},{"id":65,"x":95,"y":0.003},{"id":65,"x":108,"y":0.0033},{"id":65,"x":118,"y":0.0025},{"id":65,"x":128,"y":0.001},{"id":65,"x":140,"y":0.0002},{"id":65,"x":150,"y":0},
      {"id":66,"x":0,"y":0.001},{"id":66,"x":4,"y":0.01},{"id":66,"x":8,"y":0.038},{"id":66,"x":12,"y":0.064},{"id":66,"x":14,"y":0.068},{"id":66,"x":17,"y":0.058},{"id":66,"x":20,"y":0.035},{"id":66,"x":23,"y":0.014},{"id":66,"x":26,"y":0.004},{"id":66,"x":29,"y":0.0008},{"id":66,"x":35,"y":0},
      {"id":67,"x":0,"y":0.003},{"id":67,"x":3,"y":0.015},{"id":67,"x":6,"y":0.045},{"id":67,"x":9,"y":0.062},{"id":67,"x":11,"y":0.065},{"id":67,"x":14,"y":0.055},{"id":67,"x":18,"y":0.03},{"id":67,"x":22,"y":0.012},{"id":67,"x":26,"y":0.003},{"id":67,"x":30,"y":0.0005},{"id":67,"x":36,"y":0},
      {"id":68,"x":0,"y":0.012},{"id":68,"x":2,"y":0.03},{"id":68,"x":4,"y":0.045},{"id":68,"x":6,"y":0.048},{"id":68,"x":9,"y":0.035},{"id":68,"x":13,"y":0.022},{"id":68,"x":18,"y":0.02},{"id":68,"x":23,"y":0.026},{"id":68,"x":28,"y":0.03},{"id":68,"x":33,"y":0.025},{"id":68,"x":39,"y":0.014},{"id":68,"x":46,"y":0.006},{"id":68,"x":55,"y":0.002},{"id":68,"x":70,"y":0.0004},{"id":68,"x":90,"y":0},
      {"id":69,"x":0,"y":0.01},{"id":69,"x":2.5,"y":0.028},{"id":69,"x":5,"y":0.04},{"id":69,"x":8,"y":0.036},{"id":69,"x":12,"y":0.024},{"id":69,"x":17,"y":0.018},{"id":69,"x":22,"y":0.02},{"id":69,"x":27,"y":0.024},{"id":69,"x":31,"y":0.025},{"id":69,"x":36,"y":0.02},{"id":69,"x":42,"y":0.012},{"id":69,"x":50,"y":0.005},{"id":69,"x":60,"y":0.0015},{"id":69,"x":80,"y":0},
      {"id":70,"x":0,"y":0.002},{"id":70,"x":3,"y":0.008},{"id":70,"x":7,"y":0.018},{"id":70,"x":12,"y":0.034},{"id":70,"x":16,"y":0.05},{"id":70,"x":20,"y":0.058},{"id":70,"x":24,"y":0.054},{"id":70,"x":28,"y":0.04},{"id":70,"x":33,"y":0.022},{"id":70,"x":39,"y":0.009},{"id":70,"x":47,"y":0.003},{"id":70,"x":60,"y":0.0006},{"id":70,"x":80,"y":0},
      {"id":71,"x":0,"y":0.004},{"id":71,"x":3,"y":0.02},{"id":71,"x":6,"y":0.048},{"id":71,"x":9,"y":0.068},{"id":71,"x":12,"y":0.07},{"id":71,"x":15,"y":0.06},{"id":71,"x":19,"y":0.038},{"id":71,"x":24,"y":0.017},{"id":71,"x":30,"y":0.006},{"id":71,"x":40,"y":0.002},{"id":71,"x":55,"y":0},
      {"id":72,"x":0,"y":0.002},{"id":72,"x":4,"y":0.014},{"id":72,"x":8,"y":0.045},{"id":72,"x":11,"y":0.064},{"id":72,"x":14,"y":0.066},{"id":72,"x":17,"y":0.056},{"id":72,"x":21,"y":0.036},{"id":72,"x":26,"y":0.017},{"id":72,"x":32,"y":0.007},{"id":72,"x":42,"y":0.002},{"id":72,"x":60,"y":0},
      {"id":73,"x":0,"y":0.001},{"id":73,"x":4,"y":0.01},{"id":73,"x":8,"y":0.03},{"id":73,"x":12,"y":0.05},{"id":73,"x":16,"y":0.064},{"id":73,"x":19,"y":0.066},{"id":73,"x":22,"y":0.058},{"id":73,"x":26,"y":0.038},{"id":73,"x":31,"y":0.018},{"id":73,"x":37,"y":0.007},{"id":73,"x":46,"y":0.002},{"id":73,"x":65,"y":0},
      {"id":74,"x":0,"y":0.002},{"id":74,"x":3,"y":0.013},{"id":74,"x":6,"y":0.036},{"id":74,"x":9,"y":0.055},{"id":74,"x":13,"y":0.066},{"id":74,"x":16,"y":0.064},{"id":74,"x":20,"y":0.048},{"id":74,"x":25,"y":0.026},{"id":74,"x":31,"y":0.011},{"id":74,"x":39,"y":0.004},{"id":74,"x":52,"y":0.001},{"id":74,"x":75,"y":0},
      {"id":75,"x":0,"y":0.003},{"id":75,"x":3,"y":0.016},{"id":75,"x":6,"y":0.04},{"id":75,"x":10,"y":0.058},{"id":75,"x":13,"y":0.06},{"id":75,"x":17,"y":0.052},{"id":75,"x":22,"y":0.034},{"id":75,"x":27,"y":0.019},{"id":75,"x":33,"y":0.009},{"id":75,"x":42,"y":0.0035},{"id":75,"x":55,"y":0.001},{"id":75,"x":80,"y":0},
      {"id":76,"x":0,"y":0.001},{"id":76,"x":4,"y":0.01},{"id":76,"x":9,"y":0.035},{"id":76,"x":13,"y":0.056},{"id":76,"x":17,"y":0.064},{"id":76,"x":21,"y":0.06},{"id":76,"x":25,"y":0.046},{"id":76,"x":30,"y":0.026},{"id":76,"x":36,"y":0.011},{"id":76,"x":44,"y":0.004},{"id":76,"x":58,"y":0.001},{"id":76,"x":85,"y":0},
      {"id":77,"x":0,"y":0.006},{"id":77,"x":2.5,"y":0.026},{"id":77,"x":5,"y":0.05},{"id":77,"x":8,"y":0.064},{"id":77,"x":10.5,"y":0.065},{"id":77,"x":14,"y":0.054},{"id":77,"x":18,"y":0.034},{"id":77,"x":23,"y":0.016},{"id":77,"x":29,"y":0.006},{"id":77,"x":38,"y":0.002},{"id":77,"x":55,"y":0},
      {"id":78,"x":0,"y":0.002},{"id":78,"x":4,"y":0.012},{"id":78,"x":8,"y":0.036},{"id":78,"x":12,"y":0.058},{"id":78,"x":16,"y":0.062},{"id":78,"x":20,"y":0.054},{"id":78,"x":25,"y":0.034},{"id":78,"x":31,"y":0.016},{"id":78,"x":38,"y":0.006},{"id":78,"x":48,"y":0.002},{"id":78,"x":65,"y":0},
      {"id":79,"x":0,"y":0.001},{"id":79,"x":3,"y":0.008},{"id":79,"x":6,"y":0.03},{"id":79,"x":9,"y":0.05},{"id":79,"x":12,"y":0.058},{"id":79,"x":16,"y":0.054},{"id":79,"x":21,"y":0.038},{"id":79,"x":27,"y":0.02},{"id":79,"x":34,"y":0.009},{"id":79,"x":44,"y":0.003},{"id":79,"x":60,"y":0.0008},{"id":79,"x":90,"y":0},
      {"id":80,"x":0,"y":0.004},{"id":80,"x":3,"y":0.02},{"id":80,"x":7,"y":0.05},{"id":80,"x":10,"y":0.06},{"id":80,"x":13,"y":0.058},{"id":80,"x":17,"y":0.046},{"id":80,"x":22,"y":0.028},{"id":80,"x":28,"y":0.013},{"id":80,"x":35,"y":0.005},{"id":80,"x":46,"y":0.0015},{"id":80,"x":65,"y":0},
      {"id":81,"x":0,"y":0.002},{"id":81,"x":3,"y":0.012},{"id":81,"x":7,"y":0.038},{"id":81,"x":11,"y":0.055},{"id":81,"x":15,"y":0.058},{"id":81,"x":19,"y":0.05},{"id":81,"x":24,"y":0.034},{"id":81,"x":30,"y":0.019},{"id":81,"x":37,"y":0.01},{"id":81,"x":45,"y":0.005},{"id":81,"x":55,"y":0.002},{"id":81,"x":70,"y":0.0006},{"id":81,"x":95,"y":0},
      {"id":82,"x":0,"y":0.003},{"id":82,"x":3,"y":0.016},{"id":82,"x":6,"y":0.04},{"id":82,"x":9,"y":0.054},{"id":82,"x":12,"y":0.056},{"id":82,"x":16,"y":0.05},{"id":82,"x":21,"y":0.036},{"id":82,"x":27,"y":0.022},{"id":82,"x":34,"y":0.012},{"id":82,"x":42,"y":0.006},{"id":82,"x":52,"y":0.0025},{"id":82,"x":68,"y":0.0007},{"id":82,"x":95,"y":0},
      {"id":83,"x":0,"y":0.001},{"id":83,"x":4,"y":0.01},{"id":83,"x":8,"y":0.03},{"id":83,"x":12,"y":0.046},{"id":83,"x":17,"y":0.054},{"id":83,"x":21,"y":0.05},{"id":83,"x":26,"y":0.038},{"id":83,"x":32,"y":0.024},{"id":83,"x":39,"y":0.013},{"id":83,"x":47,"y":0.006},{"id":83,"x":58,"y":0.0025},{"id":83,"x":75,"y":0.0006},{"id":83,"x":105,"y":0},
      {"id":84,"x":0,"y":0.004},{"id":84,"x":3,"y":0.018},{"id":84,"x":6,"y":0.042},{"id":84,"x":9,"y":0.058},{"id":84,"x":12,"y":0.06},{"id":84,"x":15,"y":0.054},{"id":84,"x":20,"y":0.038},{"id":84,"x":25,"y":0.024},{"id":84,"x":31,"y":0.013},{"id":84,"x":39,"y":0.006},{"id":84,"x":50,"y":0.0025},{"id":84,"x":65,"y":0.0007},{"id":84,"x":90,"y":0},
      {"id":85,"x":0,"y":0.002},{"id":85,"x":4,"y":0.014},{"id":85,"x":8,"y":0.04},{"id":85,"x":12,"y":0.058},{"id":85,"x":16,"y":0.06},{"id":85,"x":20,"y":0.052},{"id":85,"x":25,"y":0.036},{"id":85,"x":31,"y":0.02},{"id":85,"x":38,"y":0.01},{"id":85,"x":47,"y":0.0045},{"id":85,"x":58,"y":0.0018},{"id":85,"x":75,"y":0.0005},{"id":85,"x":100,"y":0},
      {"id":86,"x":0,"y":0.001},{"id":86,"x":5,"y":0.012},{"id":86,"x":10,"y":0.036},{"id":86,"x":14,"y":0.052},{"id":86,"x":18,"y":0.058},{"id":86,"x":22,"y":0.054},{"id":86,"x":27,"y":0.04},{"id":86,"x":33,"y":0.024},{"id":86,"x":40,"y":0.012},{"id":86,"x":49,"y":0.0055},{"id":86,"x":60,"y":0.002},{"id":86,"x":80,"y":0.0005},{"id":86,"x":110,"y":0},
      {"id":87,"x":0,"y":0.005},{"id":87,"x":3,"y":0.02},{"id":87,"x":6,"y":0.042},{"id":87,"x":10,"y":0.055},{"id":87,"x":13,"y":0.055},{"id":87,"x":17,"y":0.047},{"id":87,"x":22,"y":0.033},{"id":87,"x":28,"y":0.02},{"id":87,"x":35,"y":0.011},{"id":87,"x":44,"y":0.0055},{"id":87,"x":55,"y":0.0025},{"id":87,"x":72,"y":0.0007},{"id":87,"x":100,"y":0},
      {"id":88,"x":0,"y":0.002},{"id":88,"x":3,"y":0.01},{"id":88,"x":7,"y":0.032},{"id":88,"x":11,"y":0.05},{"id":88,"x":15,"y":0.056},{"id":88,"x":19,"y":0.052},{"id":88,"x":24,"y":0.038},{"id":88,"x":30,"y":0.022},{"id":88,"x":37,"y":0.011},{"id":88,"x":46,"y":0.005},{"id":88,"x":57,"y":0.002},{"id":88,"x":75,"y":0.0005},{"id":88,"x":105,"y":0},
      {"id":89,"x":0,"y":0.003},{"id":89,"x":4,"y":0.016},{"id":89,"x":8,"y":0.042},{"id":89,"x":11,"y":0.054},{"id":89,"x":14,"y":0.055},{"id":89,"x":18,"y":0.047},{"id":89,"x":23,"y":0.032},{"id":89,"x":29,"y":0.018},{"id":89,"x":36,"y":0.009},{"id":89,"x":45,"y":0.004},{"id":89,"x":56,"y":0.0015},{"id":89,"x":75,"y":0.0004},{"id":89,"x":100,"y":0},
      {"id":90,"x":0,"y":0.001},{"id":90,"x":4,"y":0.009},{"id":90,"x":9,"y":0.03},{"id":90,"x":14,"y":0.048},{"id":90,"x":19,"y":0.055},{"id":90,"x":24,"y":0.05},{"id":90,"x":29,"y":0.036},{"id":90,"x":35,"y":0.021},{"id":90,"x":42,"y":0.011},{"id":90,"x":50,"y":0.005},{"id":90,"x":62,"y":0.002},{"id":90,"x":80,"y":0.0005},{"id":90,"x":110,"y":0},
      {"id":91,"x":0,"y":0.004},{"id":91,"x":3,"y":0.02},{"id":91,"x":6,"y":0.046},{"id":91,"x":9,"y":0.06},{"id":91,"x":12,"y":0.06},{"id":91,"x":16,"y":0.05},{"id":91,"x":21,"y":0.033},{"id":91,"x":27,"y":0.018},{"id":91,"x":34,"y":0.009},{"id":91,"x":43,"y":0.004},{"id":91,"x":55,"y":0.0015},{"id":91,"x":72,"y":0.0004},{"id":91,"x":100,"y":0},
      {"id":92,"x":0,"y":0.002},{"id":92,"x":4,"y":0.013},{"id":92,"x":8,"y":0.038},{"id":92,"x":13,"y":0.058},{"id":92,"x":17,"y":0.062},{"id":92,"x":21,"y":0.055},{"id":92,"x":26,"y":0.037},{"id":92,"x":32,"y":0.02},{"id":92,"x":39,"y":0.009},{"id":92,"x":48,"y":0.004},{"id":92,"x":60,"y":0.0013},{"id":92,"x":80,"y":0.0003},{"id":92,"x":105,"y":0},
      {"id":93,"x":0,"y":0.003},{"id":93,"x":3,"y":0.014},{"id":93,"x":7,"y":0.036},{"id":93,"x":11,"y":0.05},{"id":93,"x":15,"y":0.052},{"id":93,"x":20,"y":0.045},{"id":93,"x":26,"y":0.032},{"id":93,"x":33,"y":0.019},{"id":93,"x":41,"y":0.01},{"id":93,"x":50,"y":0.005},{"id":93,"x":62,"y":0.002},{"id":93,"x":80,"y":0.0006},{"id":93,"x":110,"y":0},
      {"id":94,"x":0,"y":0.001},{"id":94,"x":5,"y":0.01},{"id":94,"x":10,"y":0.03},{"id":94,"x":15,"y":0.046},{"id":94,"x":20,"y":0.052},{"id":94,"x":25,"y":0.048},{"id":94,"x":31,"y":0.035},{"id":94,"x":38,"y":0.021},{"id":94,"x":46,"y":0.011},{"id":94,"x":55,"y":0.005},{"id":94,"x":67,"y":0.002},{"id":94,"x":85,"y":0.0005},{"id":94,"x":115,"y":0},
      {"id":95,"x":0,"y":0.006},{"id":95,"x":2.5,"y":0.024},{"id":95,"x":5,"y":0.045},{"id":95,"x":8,"y":0.057},{"id":95,"x":11,"y":0.057},{"id":95,"x":15,"y":0.046},{"id":95,"x":20,"y":0.03},{"id":95,"x":26,"y":0.017},{"id":95,"x":33,"y":0.009},{"id":95,"x":42,"y":0.0045},{"id":95,"x":54,"y":0.0018},{"id":95,"x":72,"y":0.0005},{"id":95,"x":100,"y":0},
      {"id":96,"x":0,"y":0.002},{"id":96,"x":4,"y":0.012},{"id":96,"x":8,"y":0.036},{"id":96,"x":12,"y":0.054},{"id":96,"x":16,"y":0.06},{"id":96,"x":20,"y":0.056},{"id":96,"x":25,"y":0.042},{"id":96,"x":31,"y":0.026},{"id":96,"x":38,"y":0.014},{"id":96,"x":47,"y":0.0065},{"id":96,"x":58,"y":0.0025},{"id":96,"x":76,"y":0.0006},{"id":96,"x":105,"y":0},
      {"id":97,"x":0,"y":0.003},{"id":97,"x":3,"y":0.015},{"id":97,"x":7,"y":0.04},{"id":97,"x":10,"y":0.052},{"id":97,"x":13,"y":0.054},{"id":97,"x":17,"y":0.048},{"id":97,"x":22,"y":0.036},{"id":97,"x":28,"y":0.023},{"id":97,"x":35,"y":0.013},{"id":97,"x":44,"y":0.0065},{"id":97,"x":56,"y":0.0028},{"id":97,"x":75,"y":0.0008},{"id":97,"x":105,"y":0},
      {"id":98,"x":0,"y":0.001},{"id":98,"x":4,"y":0.008},{"id":98,"x":9,"y":0.028},{"id":98,"x":14,"y":0.046},{"id":98,"x":19,"y":0.056},{"id":98,"x":23,"y":0.055},{"id":98,"x":28,"y":0.044},{"id":98,"x":34,"y":0.028},{"id":98,"x":41,"y":0.015},{"id":98,"x":50,"y":0.007},{"id":98,"x":62,"y":0.0028},{"id":98,"x":80,"y":0.0008},{"id":98,"x":110,"y":0},
      {"id":99,"x":0,"y":0.004},{"id":99,"x":3,"y":0.017},{"id":99,"x":6,"y":0.04},{"id":99,"x":9,"y":0.052},{"id":99,"x":12,"y":0.054},{"id":99,"x":16,"y":0.047},{"id":99,"x":21,"y":0.034},{"id":99,"x":27,"y":0.021},{"id":99,"x":34,"y":0.011},{"id":99,"x":43,"y":0.005},{"id":99,"x":55,"y":0.002},{"id":99,"x":72,"y":0.0006},{"id":99,"x":100,"y":0},
      {"id":100,"x":0,"y":0.002},{"id":100,"x":3,"y":0.011},{"id":100,"x":7,"y":0.034},{"id":100,"x":11,"y":0.052},{"id":100,"x":14,"y":0.058},{"id":100,"x":18,"y":0.054},{"id":100,"x":23,"y":0.04},{"id":100,"x":29,"y":0.024},{"id":100,"x":36,"y":0.012},{"id":100,"x":45,"y":0.0055},{"id":100,"x":57,"y":0.002},{"id":100,"x":75,"y":0.0005},{"id":100,"x":105,"y":0},
      {"id":121,"x":0,"y":0.002},{"id":121,"x":4,"y":0.012},{"id":121,"x":7,"y":0.032},{"id":121,"x":10,"y":0.046},{"id":121,"x":13,"y":0.052},{"id":121,"x":17,"y":0.05},{"id":121,"x":22,"y":0.04},{"id":121,"x":28,"y":0.027},{"id":121,"x":35,"y":0.015},{"id":121,"x":44,"y":0.007},{"id":121,"x":55,"y":0.003},{"id":121,"x":72,"y":0.0008},{"id":121,"x":100,"y":0},
      {"id":122,"x":0,"y":0.003},{"id":122,"x":3,"y":0.014},{"id":122,"x":6,"y":0.036},{"id":122,"x":9,"y":0.052},{"id":122,"x":12,"y":0.058},{"id":122,"x":15,"y":0.055},{"id":122,"x":19,"y":0.042},{"id":122,"x":24,"y":0.026},{"id":122,"x":30,"y":0.014},{"id":122,"x":38,"y":0.0065},{"id":122,"x":48,"y":0.0028},{"id":122,"x":64,"y":0.0008},{"id":122,"x":90,"y":0},
      {"id":123,"x":0,"y":0.001},{"id":123,"x":4,"y":0.01},{"id":123,"x":9,"y":0.034},{"id":123,"x":13,"y":0.052},{"id":123,"x":17,"y":0.06},{"id":123,"x":21,"y":0.058},{"id":123,"x":25,"y":0.046},{"id":123,"x":30,"y":0.028},{"id":123,"x":36,"y":0.014},{"id":123,"x":44,"y":0.0065},{"id":123,"x":55,"y":0.0025},{"id":123,"x":72,"y":0.0006},{"id":123,"x":100,"y":0},
      {"id":124,"x":0,"y":0.005},{"id":124,"x":3,"y":0.022},{"id":124,"x":6,"y":0.046},{"id":124,"x":9,"y":0.058},{"id":124,"x":12,"y":0.058},{"id":124,"x":16,"y":0.049},{"id":124,"x":21,"y":0.034},{"id":124,"x":27,"y":0.02},{"id":124,"x":34,"y":0.01},{"id":124,"x":43,"y":0.0048},{"id":124,"x":55,"y":0.002},{"id":124,"x":72,"y":0.0005},{"id":124,"x":100,"y":0},
      {"id":125,"x":0,"y":0.002},{"id":125,"x":4,"y":0.014},{"id":125,"x":8,"y":0.04},{"id":125,"x":11,"y":0.054},{"id":125,"x":14,"y":0.058},{"id":125,"x":18,"y":0.052},{"id":125,"x":23,"y":0.036},{"id":125,"x":29,"y":0.02},{"id":125,"x":36,"y":0.01},{"id":125,"x":45,"y":0.0045},{"id":125,"x":57,"y":0.0018},{"id":125,"x":75,"y":0.0004},{"id":125,"x":100,"y":0},
      {"id":126,"x":0,"y":0.001},{"id":126,"x":5,"y":0.01},{"id":126,"x":10,"y":0.032},{"id":126,"x":15,"y":0.05},{"id":126,"x":20,"y":0.058},{"id":126,"x":24,"y":0.055},{"id":126,"x":29,"y":0.042},{"id":126,"x":35,"y":0.026},{"id":126,"x":42,"y":0.013},{"id":126,"x":51,"y":0.006},{"id":126,"x":63,"y":0.0022},{"id":126,"x":82,"y":0.0005},{"id":126,"x":110,"y":0},
      {"id":127,"x":0,"y":0.003},{"id":127,"x":3,"y":0.015},{"id":127,"x":7,"y":0.042},{"id":127,"x":10,"y":0.058},{"id":127,"x":13,"y":0.062},{"id":127,"x":16,"y":0.057},{"id":127,"x":20,"y":0.042},{"id":127,"x":25,"y":0.025},{"id":127,"x":31,"y":0.013},{"id":127,"x":39,"y":0.006},{"id":127,"x":50,"y":0.0024},{"id":127,"x":66,"y":0.0006},{"id":127,"x":95,"y":0},
      {"id":128,"x":0,"y":0.002},{"id":128,"x":4,"y":0.011},{"id":128,"x":8,"y":0.03},{"id":128,"x":12,"y":0.046},{"id":128,"x":16,"y":0.052},{"id":128,"x":21,"y":0.049},{"id":128,"x":27,"y":0.038},{"id":128,"x":34,"y":0.024},{"id":128,"x":42,"y":0.013},{"id":128,"x":51,"y":0.0065},{"id":128,"x":63,"y":0.0027},{"id":128,"x":82,"y":0.0008},{"id":128,"x":115,"y":0},
      {"id":129,"x":0,"y":0.004},{"id":129,"x":3,"y":0.018},{"id":129,"x":6,"y":0.044},{"id":129,"x":9,"y":0.062},{"id":129,"x":11.5,"y":0.066},{"id":129,"x":14.5,"y":0.06},{"id":129,"x":18.5,"y":0.042},{"id":129,"x":23,"y":0.024},{"id":129,"x":29,"y":0.012},{"id":129,"x":37,"y":0.0055},{"id":129,"x":48,"y":0.002},{"id":129,"x":65,"y":0.0005},{"id":129,"x":90,"y":0},
      {"id":130,"x":0,"y":0.001},{"id":130,"x":4,"y":0.01},{"id":130,"x":8,"y":0.032},{"id":130,"x":13,"y":0.054},{"id":130,"x":17,"y":0.064},{"id":130,"x":21,"y":0.06},{"id":130,"x":25,"y":0.046},{"id":130,"x":30,"y":0.027},{"id":130,"x":36,"y":0.013},{"id":130,"x":44,"y":0.006},{"id":130,"x":55,"y":0.0022},{"id":130,"x":72,"y":0.0005},{"id":130,"x":100,"y":0},
      {"id":131,"x":0,"y":0.003},{"id":131,"x":3,"y":0.013},{"id":131,"x":7,"y":0.034},{"id":131,"x":11,"y":0.048},{"id":131,"x":15,"y":0.05},{"id":131,"x":20,"y":0.044},{"id":131,"x":26,"y":0.032},{"id":131,"x":33,"y":0.02},{"id":131,"x":41,"y":0.011},{"id":131,"x":50,"y":0.0055},{"id":131,"x":62,"y":0.0024},{"id":131,"x":80,"y":0.0007},{"id":131,"x":110,"y":0},
      {"id":132,"x":0,"y":0.002},{"id":132,"x":3,"y":0.01},{"id":132,"x":6,"y":0.03},{"id":132,"x":9,"y":0.046},{"id":132,"x":13,"y":0.056},{"id":132,"x":17,"y":0.056},{"id":132,"x":21,"y":0.046},{"id":132,"x":26,"y":0.03},{"id":132,"x":32,"y":0.016},{"id":132,"x":40,"y":0.0075},{"id":132,"x":50,"y":0.003},{"id":132,"x":66,"y":0.0008},{"id":132,"x":95,"y":0},
      {"id":133,"x":0,"y":0.001},{"id":133,"x":5,"y":0.012},{"id":133,"x":10,"y":0.038},{"id":133,"x":14,"y":0.056},{"id":133,"x":18,"y":0.062},{"id":133,"x":22,"y":0.056},{"id":133,"x":27,"y":0.038},{"id":133,"x":33,"y":0.02},{"id":133,"x":40,"y":0.009},{"id":133,"x":49,"y":0.004},{"id":133,"x":60,"y":0.0015},{"id":133,"x":78,"y":0.0004},{"id":133,"x":105,"y":0},
      {"id":134,"x":0,"y":0.006},{"id":134,"x":2.5,"y":0.026},{"id":134,"x":5,"y":0.048},{"id":134,"x":8,"y":0.06},{"id":134,"x":11,"y":0.06},{"id":134,"x":14,"y":0.052},{"id":134,"x":19,"y":0.036},{"id":134,"x":25,"y":0.021},{"id":134,"x":32,"y":0.011},{"id":134,"x":41,"y":0.0052},{"id":134,"x":53,"y":0.002},{"id":134,"x":70,"y":0.0005},{"id":134,"x":100,"y":0},
      {"id":135,"x":0,"y":0.002},{"id":135,"x":4,"y":0.012},{"id":135,"x":9,"y":0.036},{"id":135,"x":14,"y":0.05},{"id":135,"x":18,"y":0.052},{"id":135,"x":23,"y":0.046},{"id":135,"x":29,"y":0.034},{"id":135,"x":36,"y":0.021},{"id":135,"x":44,"y":0.011},{"id":135,"x":53,"y":0.0055},{"id":135,"x":65,"y":0.0024},{"id":135,"x":85,"y":0.0007},{"id":135,"x":115,"y":0},
      {"id":136,"x":0,"y":0.003},{"id":136,"x":3,"y":0.016},{"id":136,"x":7,"y":0.044},{"id":136,"x":10,"y":0.06},{"id":136,"x":13,"y":0.064},{"id":136,"x":16,"y":0.06},{"id":136,"x":20,"y":0.046},{"id":136,"x":25,"y":0.028},{"id":136,"x":31,"y":0.014},{"id":136,"x":39,"y":0.006},{"id":136,"x":50,"y":0.0022},{"id":136,"x":66,"y":0.0005},{"id":136,"x":95,"y":0},
      {"id":137,"x":0,"y":0.001},{"id":137,"x":4,"y":0.01},{"id":137,"x":9,"y":0.03},{"id":137,"x":14,"y":0.046},{"id":137,"x":19,"y":0.054},{"id":137,"x":24,"y":0.052},{"id":137,"x":29,"y":0.042},{"id":137,"x":35,"y":0.028},{"id":137,"x":42,"y":0.016},{"id":137,"x":51,"y":0.008},{"id":137,"x":63,"y":0.0032},{"id":137,"x":82,"y":0.001},{"id":137,"x":115,"y":0},
      {"id":138,"x":0,"y":0.004},{"id":138,"x":3,"y":0.02},{"id":138,"x":6,"y":0.044},{"id":138,"x":9,"y":0.056},{"id":138,"x":12,"y":0.057},{"id":138,"x":16,"y":0.05},{"id":138,"x":21,"y":0.036},{"id":138,"x":27,"y":0.022},{"id":138,"x":34,"y":0.012},{"id":138,"x":43,"y":0.006},{"id":138,"x":55,"y":0.0025},{"id":138,"x":72,"y":0.0007},{"id":138,"x":100,"y":0},
      {"id":139,"x":0,"y":0.002},{"id":139,"x":4,"y":0.014},{"id":139,"x":8,"y":0.042},{"id":139,"x":12,"y":0.06},{"id":139,"x":15,"y":0.064},{"id":139,"x":19,"y":0.058},{"id":139,"x":24,"y":0.04},{"id":139,"x":30,"y":0.022},{"id":139,"x":37,"y":0.01},{"id":139,"x":46,"y":0.0045},{"id":139,"x":58,"y":0.0016},{"id":139,"x":76,"y":0.0004},{"id":139,"x":105,"y":0},
      {"id":140,"x":0,"y":0.003},{"id":140,"x":3,"y":0.012},{"id":140,"x":7,"y":0.032},{"id":140,"x":11,"y":0.046},{"id":140,"x":15,"y":0.05},{"id":140,"x":20,"y":0.046},{"id":140,"x":26,"y":0.036},{"id":140,"x":33,"y":0.024},{"id":140,"x":41,"y":0.014},{"id":140,"x":50,"y":0.0075},{"id":140,"x":62,"y":0.0034},{"id":140,"x":80,"y":0.001},{"id":140,"x":110,"y":0}
    ],
    "beyond": [
      {"id":101,"x":0,"y":0.003},{"id":101,"x":4,"y":0.006},{"id":101,"x":10,"y":0.01},{"id":101,"x":16,"y":0.014},{"id":101,"x":22,"y":0.018},{"id":101,"x":28,"y":0.025},{"id":101,"x":33,"y":0.032},{"id":101,"x":37,"y":0.0355},{"id":101,"x":40,"y":0.036},{"id":101,"x":42,"y":0.042},{"id":101,"x":44.5,"y":0.052},{"id":101,"x":46.8,"y":0.0456},{"id":101,"x":48.6,"y":0.0382},{"id":101,"x":50,"y":0.0308},{"id":101,"x":51.2,"y":0.0216},{"id":101,"x":52.5,"y":0.0124},{"id":101,"x":54.2,"y":0.0058},{"id":101,"x":57,"y":0.0025},{"id":101,"x":62,"y":0.001},{"id":101,"x":75,"y":0.0002},{"id":101,"x":160,"y":0},
      {"id":102,"x":0,"y":0.002},{"id":102,"x":4,"y":0.005},{"id":102,"x":10,"y":0.009},{"id":102,"x":16,"y":0.013},{"id":102,"x":22,"y":0.018},{"id":102,"x":28,"y":0.024},{"id":102,"x":33,"y":0.031},{"id":102,"x":37,"y":0.0352},{"id":102,"x":40,"y":0.0358},{"id":102,"x":42.5,"y":0.04},{"id":102,"x":44.5,"y":0.0423},{"id":102,"x":46.8,"y":0.0399},{"id":102,"x":48.1,"y":0.0327},{"id":102,"x":49.4,"y":0.0235},{"id":102,"x":51.2,"y":0.0143},{"id":102,"x":52.9,"y":0.0069},{"id":102,"x":55.5,"y":0.0025},{"id":102,"x":60,"y":0.001},{"id":102,"x":75,"y":0.0002},{"id":102,"x":160,"y":0},
      {"id":103,"x":0,"y":0.003},{"id":103,"x":3,"y":0.01},{"id":103,"x":6,"y":0.022},{"id":103,"x":8.5,"y":0.028},{"id":103,"x":10.6,"y":0.0286},{"id":103,"x":12.7,"y":0.0256},{"id":103,"x":15.7,"y":0.0203},{"id":103,"x":19,"y":0.0185},{"id":103,"x":22.5,"y":0.0185},{"id":103,"x":27,"y":0.022},{"id":103,"x":31,"y":0.029},{"id":103,"x":34.5,"y":0.033},{"id":103,"x":37,"y":0.031},{"id":103,"x":40.3,"y":0.027},{"id":103,"x":44.7,"y":0.018},{"id":103,"x":48,"y":0.009},{"id":103,"x":52,"y":0.0035},{"id":103,"x":58,"y":0.001},{"id":103,"x":75,"y":0.0001},{"id":103,"x":160,"y":0},
      {"id":104,"x":0,"y":0.002},{"id":104,"x":3,"y":0.01},{"id":104,"x":6,"y":0.022},{"id":104,"x":8.9,"y":0.0279},{"id":104,"x":12,"y":0.0234},{"id":104,"x":15.7,"y":0.0166},{"id":104,"x":19.5,"y":0.0122},{"id":104,"x":23.3,"y":0.0091},{"id":104,"x":25.5,"y":0.0082},{"id":104,"x":29,"y":0.011},{"id":104,"x":33,"y":0.022},{"id":104,"x":37,"y":0.0305},{"id":104,"x":40,"y":0.029},{"id":104,"x":43,"y":0.024},{"id":104,"x":46,"y":0.016},{"id":104,"x":50,"y":0.008},{"id":104,"x":55,"y":0.003},{"id":104,"x":62,"y":0.001},{"id":104,"x":80,"y":0.0002},{"id":104,"x":160,"y":0},
      {"id":105,"x":0,"y":0.002},{"id":105,"x":4,"y":0.006},{"id":105,"x":8,"y":0.013},{"id":105,"x":12,"y":0.022},{"id":105,"x":16.1,"y":0.0272},{"id":105,"x":19,"y":0.025},{"id":105,"x":23,"y":0.018},{"id":105,"x":27,"y":0.0125},{"id":105,"x":31,"y":0.0135},{"id":105,"x":36,"y":0.019},{"id":105,"x":40,"y":0.026},{"id":105,"x":43.6,"y":0.029},{"id":105,"x":47,"y":0.026},{"id":105,"x":51,"y":0.018},{"id":105,"x":55,"y":0.01},{"id":105,"x":60,"y":0.004},{"id":105,"x":67,"y":0.0012},{"id":105,"x":80,"y":0.0003},{"id":105,"x":160,"y":0},
      {"id":106,"x":0,"y":0.001},{"id":106,"x":4,"y":0.005},{"id":106,"x":8,"y":0.011},{"id":106,"x":12,"y":0.019},{"id":106,"x":15.9,"y":0.0252},{"id":106,"x":19,"y":0.024},{"id":106,"x":23,"y":0.019},{"id":106,"x":27,"y":0.014},{"id":106,"x":30,"y":0.0115},{"id":106,"x":34,"y":0.0135},{"id":106,"x":38,"y":0.02},{"id":106,"x":42.8,"y":0.0279},{"id":106,"x":46,"y":0.026},{"id":106,"x":50,"y":0.019},{"id":106,"x":54,"y":0.011},{"id":106,"x":58,"y":0.005},{"id":106,"x":64,"y":0.0015},{"id":106,"x":75,"y":0.0004},{"id":106,"x":160,"y":0},
      {"id":107,"x":0,"y":0.002},{"id":107,"x":5,"y":0.007},{"id":107,"x":10,"y":0.011},{"id":107,"x":15,"y":0.013},{"id":107,"x":20,"y":0.014},{"id":107,"x":26,"y":0.015},{"id":107,"x":32,"y":0.017},{"id":107,"x":38,"y":0.02},{"id":107,"x":44,"y":0.0245},{"id":107,"x":48.8,"y":0.0259},{"id":107,"x":52,"y":0.024},{"id":107,"x":56,"y":0.018},{"id":107,"x":60,"y":0.011},{"id":107,"x":64,"y":0.0055},{"id":107,"x":69,"y":0.002},{"id":107,"x":78,"y":0.0006},{"id":107,"x":95,"y":0.0001},{"id":107,"x":160,"y":0},
      {"id":108,"x":0,"y":0.003},{"id":108,"x":5,"y":0.008},{"id":108,"x":10,"y":0.0115},{"id":108,"x":15,"y":0.0122},{"id":108,"x":20,"y":0.0118},{"id":108,"x":26,"y":0.011},{"id":108,"x":32,"y":0.0105},{"id":108,"x":38,"y":0.011},{"id":108,"x":44,"y":0.013},{"id":108,"x":50,"y":0.016},{"id":108,"x":55,"y":0.019},{"id":108,"x":59,"y":0.0222},{"id":108,"x":62.2,"y":0.0231},{"id":108,"x":65,"y":0.0215},{"id":108,"x":68,"y":0.016},{"id":108,"x":71,"y":0.0095},{"id":108,"x":74,"y":0.0045},{"id":108,"x":78,"y":0.0016},{"id":108,"x":85,"y":0.0004},{"id":108,"x":160,"y":0},
      {"id":109,"x":0,"y":0.003},{"id":109,"x":4,"y":0.007},{"id":109,"x":9,"y":0.011},{"id":109,"x":14,"y":0.0125},{"id":109,"x":20,"y":0.0115},{"id":109,"x":27,"y":0.0098},{"id":109,"x":34,"y":0.0088},{"id":109,"x":40,"y":0.0078},{"id":109,"x":47,"y":0.0074},{"id":109,"x":55,"y":0.0073},{"id":109,"x":61,"y":0.0074},{"id":109,"x":67.5,"y":0.0082},{"id":109,"x":74,"y":0.009},{"id":109,"x":80.5,"y":0.0097},{"id":109,"x":86,"y":0.0106},{"id":109,"x":91.6,"y":0.0112},{"id":109,"x":96,"y":0.0105},{"id":109,"x":100,"y":0.0091},{"id":109,"x":103,"y":0.0074},{"id":109,"x":106.6,"y":0.0054},{"id":109,"x":110,"y":0.0036},{"id":109,"x":113,"y":0.0022},{"id":109,"x":116,"y":0.0013},{"id":109,"x":119.6,"y":0.0007},{"id":109,"x":125,"y":0.0003},{"id":109,"x":135,"y":0.0001},{"id":109,"x":160,"y":0},
      {"id":110,"x":0,"y":0.002},{"id":110,"x":3,"y":0.004},{"id":110,"x":7,"y":0.0055},{"id":110,"x":11.2,"y":0.0061},{"id":110,"x":16,"y":0.0057},{"id":110,"x":21,"y":0.0048},{"id":110,"x":25,"y":0.0055},{"id":110,"x":30,"y":0.009},{"id":110,"x":36,"y":0.0135},{"id":110,"x":42,"y":0.017},{"id":110,"x":48,"y":0.019},{"id":110,"x":53,"y":0.0185},{"id":110,"x":58,"y":0.014},{"id":110,"x":63,"y":0.008},{"id":110,"x":68,"y":0.0035},{"id":110,"x":74,"y":0.0012},{"id":110,"x":85,"y":0.0003},{"id":110,"x":160,"y":0},
      {"id":111,"x":0,"y":0.003},{"id":111,"x":3,"y":0.008},{"id":111,"x":7,"y":0.015},{"id":111,"x":11.8,"y":0.02},{"id":111,"x":16,"y":0.0185},{"id":111,"x":21,"y":0.0165},{"id":111,"x":26,"y":0.0162},{"id":111,"x":32,"y":0.0175},{"id":111,"x":38,"y":0.0185},{"id":111,"x":44,"y":0.017},{"id":111,"x":50,"y":0.012},{"id":111,"x":56,"y":0.0065},{"id":111,"x":62,"y":0.003},{"id":111,"x":70,"y":0.001},{"id":111,"x":85,"y":0.0002},{"id":111,"x":160,"y":0},
      {"id":112,"x":0,"y":0.002},{"id":112,"x":4,"y":0.007},{"id":112,"x":9,"y":0.014},{"id":112,"x":14.8,"y":0.0194},{"id":112,"x":19,"y":0.018},{"id":112,"x":24,"y":0.0145},{"id":112,"x":30,"y":0.0115},{"id":112,"x":36,"y":0.0118},{"id":112,"x":42,"y":0.014},{"id":112,"x":47,"y":0.0175},{"id":112,"x":52,"y":0.0195},{"id":112,"x":57,"y":0.017},{"id":112,"x":62,"y":0.011},{"id":112,"x":67,"y":0.0055},{"id":112,"x":73,"y":0.002},{"id":112,"x":82,"y":0.0006},{"id":112,"x":100,"y":0.0001},{"id":112,"x":160,"y":0},
      {"id":113,"x":0,"y":0.004},{"id":113,"x":4,"y":0.009},{"id":113,"x":9,"y":0.013},{"id":113,"x":14,"y":0.016},{"id":113,"x":18,"y":0.0165},{"id":113,"x":23,"y":0.0155},{"id":113,"x":29,"y":0.0148},{"id":113,"x":35,"y":0.016},{"id":113,"x":41,"y":0.0175},{"id":113,"x":46,"y":0.0178},{"id":113,"x":51,"y":0.016},{"id":113,"x":56,"y":0.0115},{"id":113,"x":61,"y":0.0065},{"id":113,"x":66,"y":0.003},{"id":113,"x":73,"y":0.001},{"id":113,"x":85,"y":0.0002},{"id":113,"x":160,"y":0},
      {"id":114,"x":0,"y":0.002},{"id":114,"x":3,"y":0.007},{"id":114,"x":7,"y":0.015},{"id":114,"x":10,"y":0.0195},{"id":114,"x":13,"y":0.0205},{"id":114,"x":17,"y":0.0185},{"id":114,"x":22,"y":0.0145},{"id":114,"x":27,"y":0.0118},{"id":114,"x":33,"y":0.0112},{"id":114,"x":39,"y":0.0125},{"id":114,"x":45,"y":0.0155},{"id":114,"x":50,"y":0.0173},{"id":114,"x":55,"y":0.0155},{"id":114,"x":60,"y":0.011},{"id":114,"x":65,"y":0.0065},{"id":114,"x":71,"y":0.003},{"id":114,"x":80,"y":0.001},{"id":114,"x":95,"y":0.0002},{"id":114,"x":160,"y":0},
      {"id":115,"x":0,"y":0.002},{"id":115,"x":4,"y":0.005},{"id":115,"x":9,"y":0.0085},{"id":115,"x":14,"y":0.0115},{"id":115,"x":20,"y":0.0135},{"id":115,"x":26,"y":0.0148},{"id":115,"x":32,"y":0.0165},{"id":115,"x":37,"y":0.0183},{"id":115,"x":41,"y":0.019},{"id":115,"x":46,"y":0.0182},{"id":115,"x":51,"y":0.015},{"id":115,"x":56,"y":0.0108},{"id":115,"x":61,"y":0.007},{"id":115,"x":67,"y":0.004},{"id":115,"x":75,"y":0.002},{"id":115,"x":85,"y":0.0008},{"id":115,"x":100,"y":0.0002},{"id":115,"x":160,"y":0},
      {"id":116,"x":0,"y":0.003},{"id":116,"x":4,"y":0.008},{"id":116,"x":8,"y":0.0135},{"id":116,"x":12,"y":0.0165},{"id":116,"x":16,"y":0.017},{"id":116,"x":21,"y":0.0152},{"id":116,"x":26,"y":0.0128},{"id":116,"x":31,"y":0.0135},{"id":116,"x":36,"y":0.018},{"id":116,"x":40,"y":0.0225},{"id":116,"x":44,"y":0.0222},{"id":116,"x":48,"y":0.018},{"id":116,"x":52,"y":0.0115},{"id":116,"x":56,"y":0.006},{"id":116,"x":61,"y":0.0025},{"id":116,"x":68,"y":0.0008},{"id":116,"x":80,"y":0.0002},{"id":116,"x":160,"y":0},
      {"id":117,"x":0,"y":0.002},{"id":117,"x":4,"y":0.007},{"id":117,"x":9,"y":0.013},{"id":117,"x":14,"y":0.0165},{"id":117,"x":20,"y":0.018},{"id":117,"x":26,"y":0.0165},{"id":117,"x":32,"y":0.0135},{"id":117,"x":38,"y":0.0115},{"id":117,"x":44,"y":0.011},{"id":117,"x":50,"y":0.0118},{"id":117,"x":55,"y":0.0125},{"id":117,"x":60,"y":0.0118},{"id":117,"x":65,"y":0.0088},{"id":117,"x":70,"y":0.0055},{"id":117,"x":76,"y":0.0028},{"id":117,"x":84,"y":0.0011},{"id":117,"x":95,"y":0.0003},{"id":117,"x":160,"y":0},
      {"id":118,"x":0,"y":0.004},{"id":118,"x":3,"y":0.009},{"id":118,"x":7,"y":0.0145},{"id":118,"x":11,"y":0.0165},{"id":118,"x":16,"y":0.0135},{"id":118,"x":22,"y":0.0105},{"id":118,"x":28,"y":0.0135},{"id":118,"x":32,"y":0.018},{"id":118,"x":35,"y":0.0205},{"id":118,"x":39,"y":0.0195},{"id":118,"x":44,"y":0.0145},{"id":118,"x":49,"y":0.0095},{"id":118,"x":55,"y":0.006},{"id":118,"x":62,"y":0.0045},{"id":118,"x":70,"y":0.0033},{"id":118,"x":80,"y":0.0018},{"id":118,"x":95,"y":0.0006},{"id":118,"x":115,"y":0.0001},{"id":118,"x":160,"y":0},
      {"id":119,"x":0,"y":0.001},{"id":119,"x":5,"y":0.005},{"id":119,"x":10,"y":0.01},{"id":119,"x":15,"y":0.0145},{"id":119,"x":20,"y":0.0172},{"id":119,"x":25,"y":0.0178},{"id":119,"x":30,"y":0.0172},{"id":119,"x":36,"y":0.0168},{"id":119,"x":42,"y":0.018},{"id":119,"x":47,"y":0.0185},{"id":119,"x":52,"y":0.017},{"id":119,"x":57,"y":0.0125},{"id":119,"x":62,"y":0.0075},{"id":119,"x":68,"y":0.0035},{"id":119,"x":75,"y":0.0012},{"id":119,"x":88,"y":0.0003},{"id":119,"x":160,"y":0},
      {"id":120,"x":0,"y":0.002},{"id":120,"x":4,"y":0.006},{"id":120,"x":9,"y":0.0105},{"id":120,"x":14,"y":0.0138},{"id":120,"x":19,"y":0.0165},{"id":120,"x":24,"y":0.0188},{"id":120,"x":28,"y":0.0195},{"id":120,"x":32,"y":0.0185},{"id":120,"x":37,"y":0.0155},{"id":120,"x":42,"y":0.0115},{"id":120,"x":47,"y":0.0085},{"id":120,"x":52,"y":0.0068},{"id":120,"x":58,"y":0.0055},{"id":120,"x":65,"y":0.0042},{"id":120,"x":73,"y":0.0028},{"id":120,"x":82,"y":0.0015},{"id":120,"x":95,"y":0.0005},{"id":120,"x":115,"y":0.0001},{"id":120,"x":160,"y":0}
    ]
  },
  "encoding": {
    "x": {
      "field": "x",
      "type": "quantitative",
      "title": "trip mean speed",
      "scale": {"domain": [-8, 168], "nice": false, "zero": false},
      "axis": {
        "values": [0, 25, 50, 75, 100, 125, 150],
        "labelExpr": "datum.value % 50 === 0 ? datum.label : ''",
        "labelPadding": 10,
        "titlePadding": 11,
        "gridWidth": {"condition": {"test": "datum.value % 50 === 0", "value": 3.4}, "value": 1.7},
        "tickOpacity": {"condition": {"test": "datum.value % 50 === 0", "value": 1}, "value": 0}
      }
    },
    "y": {
      "field": "y",
      "type": "quantitative",
      "title": "density",
      "scale": {"domain": [-0.00467, 0.0998], "nice": false, "zero": false},
      "axis": {
        "values": [0, 0.0125, 0.025, 0.0375, 0.05, 0.0625, 0.075, 0.0875],
        "format": ".3f",
        "labelExpr": "round(datum.value * 1000) % 25 === 0 ? datum.label : ''",
        "labelPadding": 13,
        "titlePadding": 9,
        "gridWidth": {"condition": {"test": "round(datum.value * 1000) % 25 === 0", "value": 3.4}, "value": 1.7},
        "tickOpacity": {"condition": {"test": "round(datum.value * 1000) % 25 === 0", "value": 1}, "value": 0}
      }
    },
    "detail": {"field": "id", "type": "nominal"}
  },
  "layer": [
    {
      "data": {"name": "within"},
      "mark": {"type": "line", "interpolate": "monotone", "strokeWidth": 4.4, "opacity": 0.45},
      "encoding": {
        "color": {
          "datum": "within",
          "type": "nominal",
          "scale": {"domain": ["beyond", "within"], "range": ["#FF0000", "#87CEEB"]},
          "legend": {
            "title": "95% CI of Mode",
            "orient": "none",
            "legendX": 1620,
            "legendY": 458,
            "padding": 0,
            "titleFontSize": 46,
            "titleFontWeight": "normal",
            "titleColor": "black",
            "titleLimit": 800,
            "titlePadding": 23,
            "labelFontSize": 37,
            "labelColor": "black",
            "labelLimit": 400,
            "labelOffset": 26,
            "symbolType": "stroke",
            "symbolSize": 3364,
            "symbolStrokeWidth": 4.4,
            "symbolOffset": 7,
            "rowPadding": 23,
            "encode": {"symbols": {"update": {"opacity": {"value": 0.5}}}}
          }
        }
      }
    },
    {
      "data": {"name": "beyond"},
      "mark": {"type": "line", "interpolate": "monotone", "strokeWidth": 4.4, "opacity": 0.3},
      "encoding": {
        "color": {"datum": "beyond", "type": "nominal"}
      }
    }
  ]
}
